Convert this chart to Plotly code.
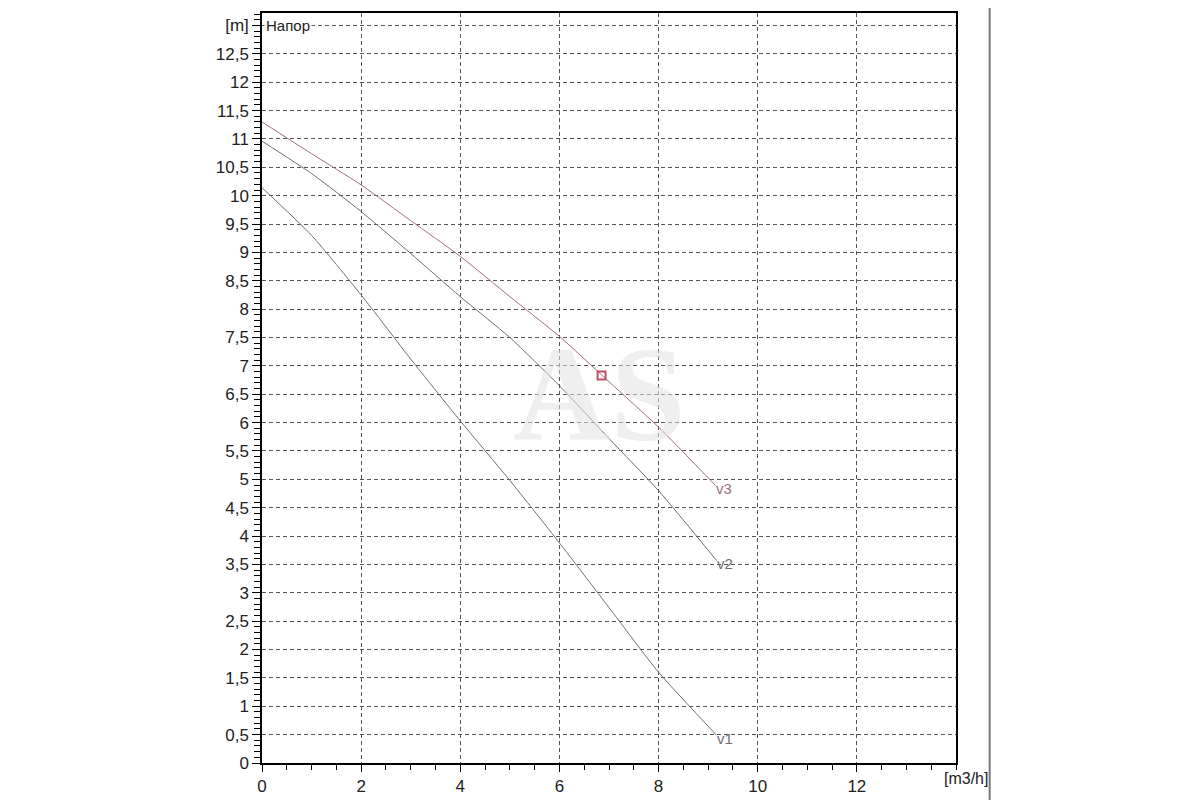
import plotly.graph_objects as go

# pump head curves
flow_v1 = [0, 1, 2, 3, 4, 5, 6, 7, 8, 9.17]
head_v1 = [10.14, 9.3, 8.25, 7.12, 6.03, 4.98, 3.88, 2.74, 1.6, 0.49]

flow_v2 = [0, 1, 2, 3, 4, 5, 6, 7, 8, 9.17]
head_v2 = [10.96, 10.39, 9.72, 8.98, 8.22, 7.5, 6.65, 5.72, 4.8, 3.57]

flow_v3 = [0, 1, 2, 3, 4, 5, 6, 7, 8, 9.15]
head_v3 = [11.3, 10.74, 10.19, 9.56, 8.93, 8.22, 7.52, 6.72, 5.92, 4.89]

duty_flow = [6.85]
duty_head = [6.83]

x_ticks = [0, 2, 4, 6, 8, 10, 12]
y_ticks = [i * 0.5 for i in range(26)] + [13]
y_labels = [("%g" % v).replace(".", ",") for v in y_ticks[:-1]] + ["[m]"]

grey = "#707070"
mauve = "#a0707e"
font = "Liberation Sans"

fig = go.Figure()
for fx, fy, name, col in [(flow_v1, head_v1, "v1", grey), (flow_v2, head_v2, "v2", grey),
                          (flow_v3, head_v3, "v3", mauve)]:
    fig.add_scatter(x=fx, y=fy, mode="lines", name=name,
                    line=dict(color=col, width=1, shape="spline", smoothing=0.6))
    fig.add_annotation(x=fx[-1], y=fy[-1], text=name, showarrow=False, xanchor="left",
                       yanchor="middle", xshift=-2, yshift=-3,
                       font=dict(family=font, size=15, color=col))

fig.add_scatter(x=duty_flow, y=duty_head, mode="markers",
                marker=dict(symbol="square-open", size=8, color="#c0506a", line=dict(width=2)))

# watermark
fig.add_annotation(x=6.8, y=6.5, text="<b>AS</b>", showarrow=False,
                   font=dict(family="Liberation Serif", size=135, color="rgba(225,225,225,0.55)"))

fig.add_annotation(xref="paper", yref="y", x=0.003, y=13, text="Напор", showarrow=False,
                   xanchor="left", yanchor="middle",
                   font=dict(family=font, size=15, color="#222"),
                   bgcolor="white")
fig.add_annotation(xref="paper", yref="paper", x=1.0, y=0, text="[m3/h]", showarrow=False,
                   xanchor="left", yanchor="top", xshift=-14, yshift=-5,
                   font=dict(family=font, size=16, color="#222"))

fig.add_shape(type="line", xref="paper", yref="paper", x0=1.0485, x1=1.0485, y0=-0.07, y1=1.03,
              line=dict(color="#777", width=2))

fig.update_xaxes(range=[0, 14], tickvals=x_ticks, showgrid=True, griddash="4px,3px",
                 gridcolor="#555", gridwidth=1, zeroline=False,
                 showline=True, linecolor="black", linewidth=1.5, mirror=True,
                 ticks="outside", ticklen=7, tickcolor="black",
                 minor=dict(dtick=0.5, ticks="outside", ticklen=5, tickcolor="black", showgrid=False),
                 tickfont=dict(family=font, size=17, color="#222"))
fig.update_yaxes(range=[0, 13.22], tickvals=y_ticks, ticktext=y_labels, showgrid=True,
                 griddash="4px,3px", gridcolor="#555", gridwidth=1, zeroline=False,
                 showline=True, linecolor="black", linewidth=1.5, mirror=True,
                 ticks="outside", ticklen=8, tickcolor="black",
                 minor=dict(dtick=0.1, ticks="outside", ticklen=6, tickcolor="black", showgrid=False),
                 tickfont=dict(family=font, size=17, color="#222"))

# page has an 8px body margin, so shift left/top accordingly
fig.update_layout(width=1200, height=800, showlegend=False,
                  plot_bgcolor="white", paper_bgcolor="white",
                  margin=dict(l=254, r=252, t=3, b=45))

fig.write_html("out.html")
